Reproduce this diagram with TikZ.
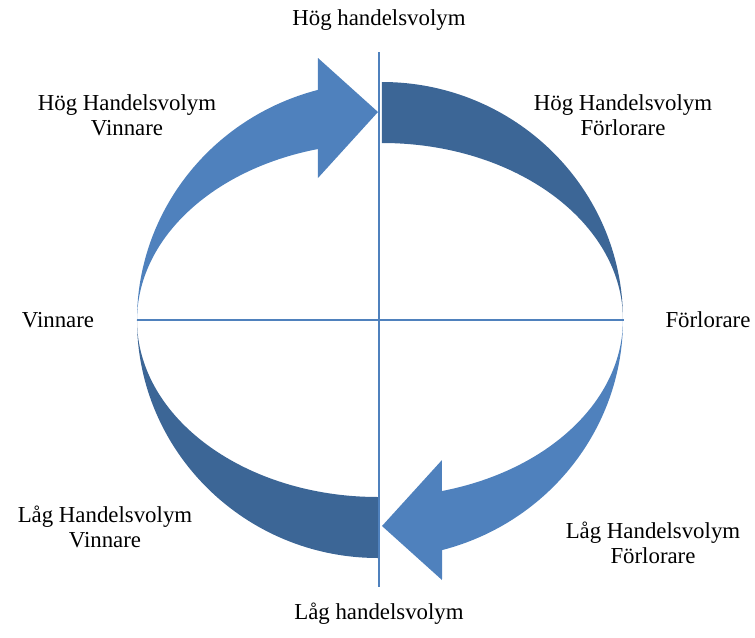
\documentclass[tikz,border=0pt]{standalone}
\usepackage{fontspec}
\setmainfont{Liberation Serif}
\usetikzlibrary{positioning}
\definecolor{lightblue}{HTML}{4F81BD}
\definecolor{darkblue}{HTML}{3C6696}

\begin{document}
\begin{tikzpicture}[x=0.02cm, y=0.02cm,
        every node/.style={font=\fontsize{13}{14.2}\selectfont, align=center, inner sep=0pt},
        band/.style={fill=darkblue},
        flow/.style={fill=lightblue},
        axis/.style={draw=lightblue, line width=0.7pt}
      ]
        % fixed bounding box
        \useasboundingbox (-380,-317) rectangle (375,320);

        % axis end points
        \coordinate (top) at (-1,268);
        \coordinate (bot) at (-1,-267);
        \coordinate (west) at (-243,0);
        \coordinate (east) at (244,0);

        % dark bands (upper right, lower left)
        \fill[band] (2,238) arc[start angle=90, end angle=0, x radius=241, y radius=238]
          arc[start angle=0, end angle=90, x radius=241, y radius=177] -- cycle;
        \fill[band] (-2,-238) arc[start angle=270, end angle=180, x radius=241, y radius=238]
          arc[start angle=180, end angle=270, x radius=241, y radius=177] -- cycle;

        % light arrows (upper left, lower right)
        \fill[flow] (west) arc[start angle=180, end angle=104.8, x radius=243, y radius=238]
          -- (-62,262) -- (-2,208) -- (-62,142) -- (-62,171)
          arc[start angle=104.8, end angle=180, x radius=243, y radius=177] -- cycle;
        \fill[flow] (243,0) arc[start angle=0, end angle=-75.2, x radius=243, y radius=238]
          -- (62,-260) -- (2,-206) -- (62,-140) -- (62,-171)
          arc[start angle=-75.2, end angle=0, x radius=243, y radius=177] -- cycle;

        % axes
        \draw[axis] (top) -- (bot);
        \draw[axis] (west) -- (east);

        % axis labels
        \node (hoghv) at (-1,300) {Hög handelsvolym};
        \node (laghv) at (-1,-294) {Låg handelsvolym};
        \node (vinn) at (-322,0) {Vinnare};
        \node (forl) at (328,0) {Förlorare};

        % quadrant labels
        \node (hogvinn) at (-253,205) {Hög Handelsvolym\\Vinnare};
        \node (hogforl) at (243,205) {Hög Handelsvolym\\Förlorare};
        \node (lagvinn) at (-275,-207) {Låg Handelsvolym\\Vinnare};
        \node (lagforl) at (273,-223) {Låg Handelsvolym\\Förlorare};
      \end{tikzpicture}
\end{document}
